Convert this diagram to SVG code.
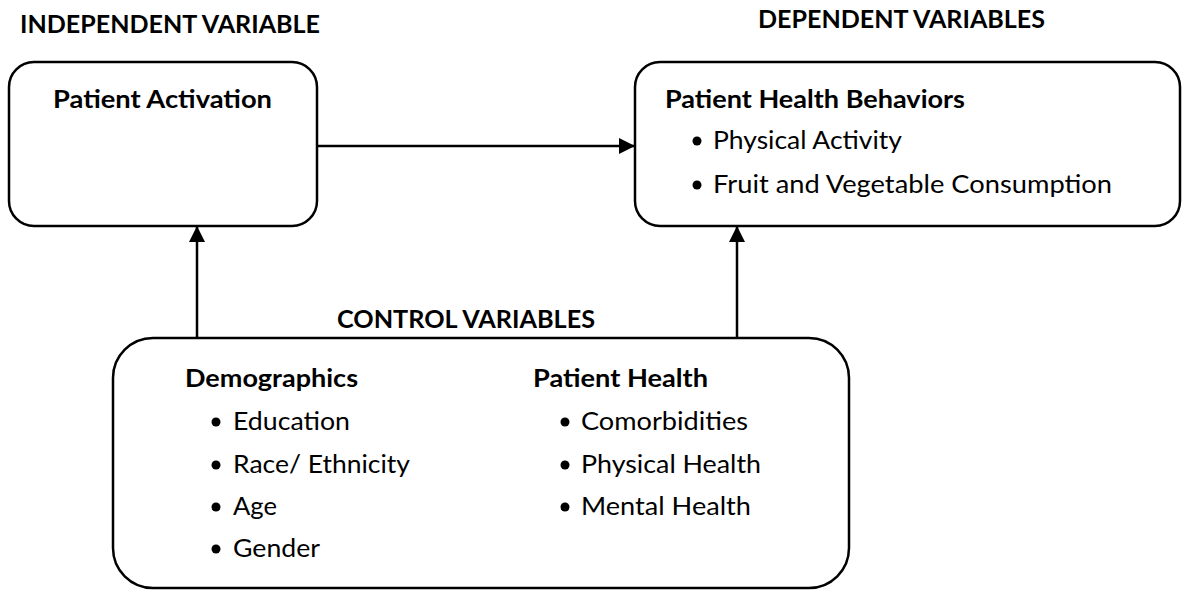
<svg xmlns="http://www.w3.org/2000/svg" width="1184" height="591" viewBox="0 0 1184 591">
<defs>
<style>
.box{fill:#fff;stroke:#000;stroke-width:2.5}
.t{font-family:Lato,"Open Sans","Liberation Sans",sans-serif;font-size:25px;fill:#000}
.b{font-weight:bold}
.ln{stroke:#000;stroke-width:2.5;fill:none}
</style>
<marker id="ah" viewBox="0 0 16 16" refX="16" refY="8" markerWidth="16" markerHeight="16" markerUnits="userSpaceOnUse" orient="auto">
<path d="M0,0 L16,8 L0,16 Z" fill="#000"/>
</marker>
</defs>
<rect width="1184" height="591" fill="#fff"/>
<g id="labels">
<text class="t b" x="20" y="33" textLength="300" lengthAdjust="spacingAndGlyphs">INDEPENDENT VARIABLE</text>
<text class="t b" x="758" y="28" textLength="287" lengthAdjust="spacingAndGlyphs">DEPENDENT VARIABLES</text>
<text class="t b" x="337" y="328" textLength="258" lengthAdjust="spacingAndGlyphs">CONTROL VARIABLES</text>
</g>
<g id="connectors">
<line class="ln" x1="317" y1="146" x2="635" y2="146" marker-end="url(#ah)"/>
<line class="ln" x1="197" y1="338" x2="197" y2="226" marker-end="url(#ah)"/>
<line class="ln" x1="737" y1="338" x2="737" y2="226" marker-end="url(#ah)"/>
</g>
<g id="patient-activation">
<rect class="box" x="9" y="62" width="308" height="164" rx="25" ry="25"/>
<text class="t b" x="53" y="108" textLength="219" lengthAdjust="spacingAndGlyphs">Patient Activation</text>
</g>
<g id="health-behaviors">
<rect class="box" x="635" y="62" width="545" height="164" rx="25" ry="25"/>
<text class="t b" x="665" y="108" textLength="300" lengthAdjust="spacingAndGlyphs">Patient Health Behaviors</text>
<circle cx="697" cy="141" r="4.5"/>
<text class="t" x="713" y="149" textLength="189" lengthAdjust="spacingAndGlyphs">Physical Activity</text>
<circle cx="697" cy="185" r="4.5"/>
<text class="t" x="713" y="193" textLength="399" lengthAdjust="spacingAndGlyphs">Fruit and Vegetable Consumption</text>
</g>
<g id="control-variables">
<rect class="box" x="113" y="338" width="736" height="250" rx="40" ry="40"/>
<text class="t b" x="185" y="387" textLength="173" lengthAdjust="spacingAndGlyphs">Demographics</text>
<circle cx="216" cy="422" r="4.5"/>
<text class="t" x="233" y="430" textLength="117" lengthAdjust="spacingAndGlyphs">Education</text>
<circle cx="216" cy="465" r="4.5"/>
<text class="t" x="233" y="473" textLength="177" lengthAdjust="spacingAndGlyphs">Race/ Ethnicity</text>
<circle cx="216" cy="507" r="4.5"/>
<text class="t" x="233" y="515" textLength="44" lengthAdjust="spacingAndGlyphs">Age</text>
<circle cx="216" cy="549" r="4.5"/>
<text class="t" x="233" y="557" textLength="87" lengthAdjust="spacingAndGlyphs">Gender</text>
<text class="t b" x="533" y="387" textLength="175" lengthAdjust="spacingAndGlyphs">Patient Health</text>
<circle cx="565" cy="422" r="4.5"/>
<text class="t" x="581" y="430" textLength="167" lengthAdjust="spacingAndGlyphs">Comorbidities</text>
<circle cx="565" cy="465" r="4.5"/>
<text class="t" x="581" y="473" textLength="180" lengthAdjust="spacingAndGlyphs">Physical Health</text>
<circle cx="565" cy="507" r="4.5"/>
<text class="t" x="581" y="515" textLength="170" lengthAdjust="spacingAndGlyphs">Mental Health</text>
</g>
</svg>
